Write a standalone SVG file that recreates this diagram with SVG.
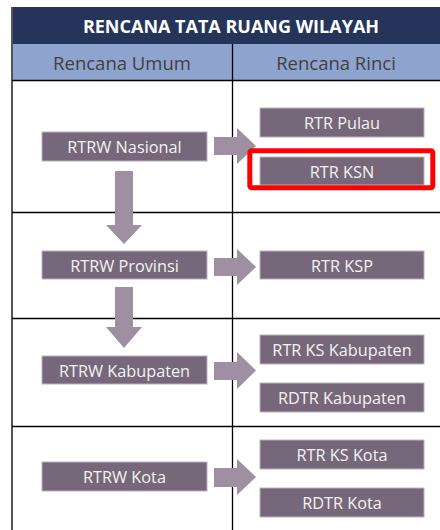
<svg xmlns="http://www.w3.org/2000/svg" width="440" height="530" viewBox="0 0 440 530">
<style>
.box{fill:#76687a;stroke:#b9b1bc;stroke-width:1}
.bt{font-family:"Open Sans","Noto Sans",sans-serif;font-size:16.3px;fill:#f4f2f5;text-anchor:middle}
.arr{fill:#9e90a2}
.grid{stroke:#000;stroke-width:1.3;fill:none}
</style>
<rect width="440" height="530" fill="#fff"/>
<rect x="11" y="7" width="429" height="37" fill="#24345a"/>
<text x="231" y="33" font-family="'Open Sans','Noto Sans',sans-serif" font-size="18" font-weight="bold" fill="#fff" text-anchor="middle">RENCANA TATA RUANG WILAYAH</text>
<rect x="11" y="44" width="429" height="36" fill="#8fa3cf"/>
<text x="122" y="70" font-family="'Open Sans','Noto Sans',sans-serif" font-size="18.5" fill="#404040" text-anchor="middle">Rencana Umum</text>
<text x="336" y="70" font-family="'Open Sans','Noto Sans',sans-serif" font-size="18.5" fill="#404040" text-anchor="middle">Rencana Rinci</text>
<g id="grid" class="grid">
<line x1="12" y1="7" x2="12" y2="530" stroke="#555" stroke-width="2"/>
<line x1="232.5" y1="44" x2="232.5" y2="530"/>
<line x1="12" y1="80.5" x2="440" y2="80.5"/>
<line x1="12" y1="212.5" x2="440" y2="212.5"/>
<line x1="12" y1="318.5" x2="440" y2="318.5"/>
<line x1="12" y1="426.5" x2="440" y2="426.5"/>
</g>
<g id="connectors">
<polygon class="arr" points="214,137 237,137 237,128 256,146 237,164 237,155 214,155"/>
<polygon class="arr" points="115,171 133,171 133,225 142,225 124,244 106,225 115,225"/>
<polygon class="arr" points="214,258 237,258 237,249 256,267 237,285 237,276 214,276"/>
<polygon class="arr" points="115,287 133,287 133,327 142,327 124,348 106,327 115,327"/>
<polygon class="arr" points="214,362 237,362 237,352 256,370.5 237,389 237,380 214,380"/>
<polygon class="arr" points="214,468 237,468 237,459 256,477 237,495 237,487 214,487"/>
</g>
<g id="rtrw-nasional"><rect class="box" x="42" y="132" width="165" height="29"/><text class="bt" x="124.5" y="152.5">RTRW Nasional</text></g>
<g id="rtr-pulau"><rect class="box" x="260" y="108" width="164" height="29"/><text class="bt" x="342" y="128.5">RTR Pulau</text></g>
<g id="rtr-ksn"><rect class="box" x="260" y="157" width="164" height="28"/><text class="bt" x="342" y="177.5">RTR KSN</text>
<rect x="249.8" y="150.8" width="183" height="37" rx="2" fill="none" stroke="#ff0000" stroke-width="5"/></g>
<g id="rtrw-provinsi"><rect class="box" x="42" y="251" width="165" height="28"/><text class="bt" x="124.5" y="271.5">RTRW Provinsi</text></g>
<g id="rtr-ksp"><rect class="box" x="260" y="251" width="164" height="28"/><text class="bt" x="342" y="271.5">RTR KSP</text></g>
<g id="rtrw-kabupaten"><rect class="box" x="42" y="356" width="165" height="28"/><text class="bt" x="124.5" y="376.5">RTRW Kabupaten</text></g>
<g id="rtr-ks-kabupaten"><rect class="box" x="260" y="335" width="164" height="29"/><text class="bt" x="342" y="355.5">RTR KS Kabupaten</text></g>
<g id="rdtr-kabupaten"><rect class="box" x="260" y="383" width="164" height="29"/><text class="bt" x="342" y="403.5">RDTR Kabupaten</text></g>
<g id="rtrw-kota"><rect class="box" x="42" y="462" width="165" height="29"/><text class="bt" x="124.5" y="482.5">RTRW Kota</text></g>
<g id="rtr-ks-kota"><rect class="box" x="260" y="440" width="164" height="29"/><text class="bt" x="342" y="460.5">RTR KS Kota</text></g>
<g id="rdtr-kota"><rect class="box" x="260" y="488" width="164" height="29"/><text class="bt" x="342" y="508.5">RDTR Kota</text></g>
</svg>
